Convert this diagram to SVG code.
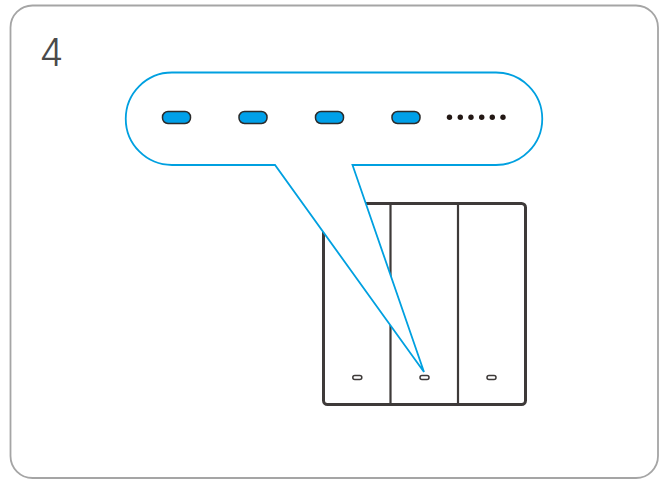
<svg xmlns="http://www.w3.org/2000/svg" width="663" height="479" viewBox="0 0 663 479">
<style>
.sw{fill:none;stroke:#3e3a39;stroke-width:3}
.div{fill:none;stroke:#3e3a39;stroke-width:2.200}
.led{fill:#fff;stroke:#3e3a39;stroke-width:1.500}
.pill{fill:#00a0e9;stroke:#2b2b2b;stroke-width:1.500}
.dot{fill:#231815}
</style>
<rect width="663" height="479" fill="#fff"/>
<rect id="card" x="10.500" y="5.500" width="647.500" height="472.500" rx="22" ry="22" fill="#fff" stroke="#a5a5a5" stroke-width="1.800"/>
<text id="step" x="39.500" y="66" font-family="'Inter','Liberation Sans',Arial,sans-serif" font-weight="300" font-size="38" fill="#4a4a4a">4</text>
<g id="switch">
<rect class="sw" x="323.500" y="203.500" width="202" height="201" rx="4"/>
<path class="div" d="M390.500 203V404M458 203V404"/>
<rect class="led" x="352.800" y="375.500" width="9" height="4" rx="2"/>
<rect class="led" x="420" y="375.500" width="9" height="4" rx="2"/>
<rect class="led" x="487" y="375.500" width="9" height="4" rx="2"/>
</g>
<g id="callout">
<path d="M172 72.500H496A46.250 46.250 0 0 1 496 165H352.500L424 372L275 165H172A46.250 46.250 0 0 1 172 72.500Z" fill="#fff" stroke="#00a0e0" stroke-width="1.800" stroke-linejoin="miter"/>
<rect class="pill" x="162.500" y="111.500" width="28" height="12" rx="5.500"/>
<rect class="pill" x="239" y="111.500" width="28" height="12" rx="5.500"/>
<rect class="pill" x="315.500" y="111.500" width="28" height="12" rx="5.500"/>
<rect class="pill" x="392" y="111.500" width="28" height="12" rx="5.500"/>
<g class="dot">
<circle cx="449.500" cy="117.300" r="2.700"/>
<circle cx="460.300" cy="117.300" r="2.700"/>
<circle cx="471" cy="117.300" r="2.700"/>
<circle cx="481.700" cy="117.300" r="2.700"/>
<circle cx="492.300" cy="117.300" r="2.700"/>
<circle cx="503" cy="117.300" r="2.700"/>
</g>
</g>
</svg>
